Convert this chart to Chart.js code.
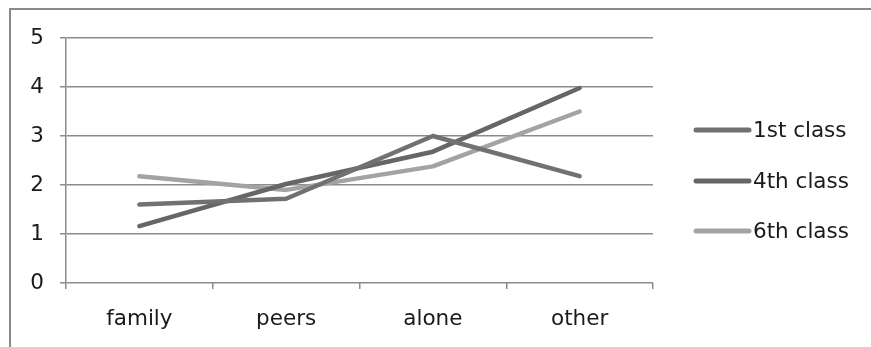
<!DOCTYPE html>
<html>
<head>
<meta charset="utf-8">
<script src="https://cdn.jsdelivr.net/npm/chart.js@4"></script>
<style>
  html, body { margin: 0; padding: 0; background: #fff; }
  #wrap { position: relative; width: 871px; height: 347px; }
  #frame { position: absolute; left: 9px; top: 8px; right: 0; bottom: 0;
           border-top: 2px solid #8a8a8a; border-left: 2px solid #8a8a8a; }
  canvas { position: absolute; left: 0; top: 0; }
</style>
</head>
<body>
<div id="wrap">
  <div id="frame"></div>
  <canvas id="c" width="871" height="347"></canvas>
</div>
<script>
const categories = ['family', 'peers', 'alone', 'other'];
const seriesNames = ['1st class', '4th class', '6th class'];
const firstClass = [1.6, 1.72, 3.0, 2.18];
const fourthClass = [1.16, 2.02, 2.68, 3.98];
const sixthClass = [2.18, 1.9, 2.38, 3.5];
const yTicks = [0, 1, 2, 3, 4, 5];

const seriesColors = ['#717171', '#666666', '#a3a3a3'];
const FONT = 'DejaVu Sans';
const TEXT = '#1a1a1a';

// Legend drawn to the right of the plot: short thick line + series name
const sideLegend = {
  id: 'sideLegend',
  afterDraw(chart) {
    const ctx = chart.ctx;
    const rows = [130, 181, 231];
    ctx.save();
    chart.data.datasets.forEach((ds, i) => {
      const y = rows[i];
      ctx.strokeStyle = ds.borderColor;
      ctx.lineWidth = 5;
      ctx.lineCap = 'round';
      ctx.beginPath();
      ctx.moveTo(696, y);
      ctx.lineTo(749, y);
      ctx.stroke();
      ctx.fillStyle = TEXT;
      ctx.font = '21.5px "' + FONT + '"';
      ctx.textBaseline = 'middle';
      ctx.textAlign = 'left';
      ctx.fillText(ds.label, 753, y + 1);
    });
    ctx.restore();
  }
};

const dataValues = [firstClass, fourthClass, sixthClass];

new Chart(document.getElementById('c'), {
  type: 'line',
  data: {
    labels: categories,
    datasets: seriesNames.map((name, i) => ({
      label: name,
      data: dataValues[i],
      borderColor: seriesColors[i],
      backgroundColor: seriesColors[i],
      borderWidth: 4.5,
      borderCapStyle: 'round',
      borderJoinStyle: 'round',
      pointRadius: 0,
      tension: 0,
      fill: false
    }))
  },
  options: {
    responsive: false,
    animation: false,
    events: [],
    layout: { padding: { top: 38, right: 218, left: 0, bottom: 0 } },
    plugins: { legend: { display: false }, tooltip: { enabled: false } },
    scales: {
      x: {
        offset: true,
        grid: {
          offset: true,
          drawOnChartArea: false,
          drawTicks: true,
          tickLength: 6,
          color: '#8c8c8c',
          lineWidth: 1.5
        },
        border: { display: false },
        ticks: {
          color: TEXT,
          font: { family: FONT, size: 21.5 },
          padding: 18,
          maxRotation: 0
        },
        afterFit(scale) { scale.height = 64; }
      },
      y: {
        min: 0,
        max: 5,
        afterBuildTicks(scale) { scale.ticks = yTicks.map(v => ({ value: v })); },
        grid: {
          color: '#8c8c8c',
          lineWidth: 1.5,
          tickLength: 6,
          drawTicks: true
        },
        border: { display: true, color: '#8c8c8c', width: 1.5 },
        ticks: {
          color: TEXT,
          font: { family: FONT, size: 21.5 },
          padding: 16
        },
        afterFit(scale) { scale.width = 66; }
      }
    }
  },
  plugins: [sideLegend]
});
</script>
</body>
</html>
